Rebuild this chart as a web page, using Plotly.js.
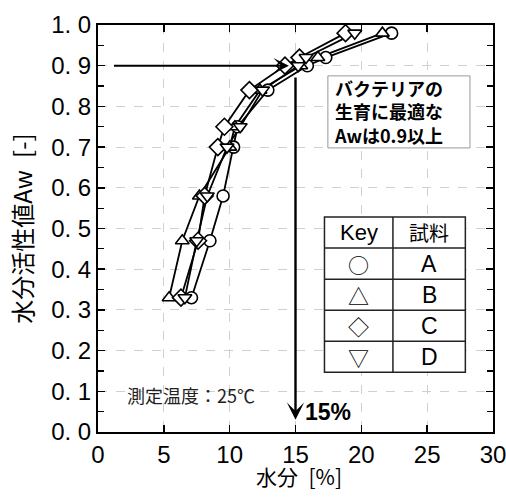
<!DOCTYPE html>
<html>
<head>
<meta charset="utf-8">
<script src="https://cdn.plot.ly/plotly-3.0.1.min.js"></script>
<style>html,body{margin:0;padding:0;background:#fff;}#chart{width:506px;height:497px;}</style>
</head>
<body>
<div id="chart"></div>
<script>
// ---- data ----
var awLevels = [0.33, 0.47, 0.58, 0.70, 0.75, 0.84, 0.90, 0.92, 0.98];
var moistureA = [7.1, 8.5, 9.5, 10.3, 10.6, 12.9, 15.9, 17.3, 22.3];
var moistureB = [5.4, 6.4, 7.7, 10.0, 10.4, 12.3, 15.4, 16.7, 21.6];
var moistureC = [6.3, 7.6, 8.1, 9.1, 9.6, 11.5, 14.2, 15.3, 18.8];
var moistureD = [6.6, 7.5, 8.3, 9.8, 10.8, 12.5, 15.2, 15.8, 19.5];
var seriesNames = ['A', 'B', 'C', 'D'];
var seriesSymbols = ['circle', 'triangle-up', 'diamond', 'triangle-down'];
var keyGlyphs = ['○', '△', '◇', '▽'];
var tableHeader = ['Key', '試料'];
var yTickVals = [0, 0.1, 0.2, 0.3, 0.4, 0.5, 0.6, 0.7, 0.8, 0.9, 1.0];
var yTickText = ['0. 0', '0. 1', '0. 2', '0. 3', '0. 4', '0. 5', '0. 6', '0. 7', '0. 8', '0. 9', '1. 0'];
var xTickVals = [0, 5, 10, 15, 20, 25, 30];
var boxText = 'バクテリアの<br>生育に最適な<br>Awは0.9以上';
var tempText = '測定温度：25℃';
var xTitle = '水分\u2002[%]';
var yTitle = '水分活性値Aw\u2002[-]';
var optimumMoisture = 15;
var optimumAw = 0.9;

var moistureSets = [moistureA, moistureB, moistureC, moistureD];
var latin = 'Liberation Sans, Arial, sans-serif';
var cjk = 'Noto Sans CJK JP, sans-serif';

var traces = [];
moistureSets.forEach(function (xs, i) {
  traces.push({x: xs, y: awLevels, type: 'scatter', mode: 'lines', name: seriesNames[i],
    line: {color: '#000', width: 1.8}, showlegend: false, hoverinfo: 'skip'});
});
moistureSets.forEach(function (xs, i) {
  traces.push({x: xs, y: awLevels, type: 'scatter', mode: 'markers', name: seriesNames[i],
    marker: {symbol: seriesSymbols[i], size: (i === 2 ? 13 : 12), color: '#fff',
      line: {color: '#000', width: 1.6}}, showlegend: false});
});

// table layout
var tX0 = 17.2, tX1 = 27.9, tDiv = 22.4, tTop = 0.528, rowH = 0.0762;
var nRows = keyGlyphs.length + 1;
var shapes = [];
shapes.push({type: 'rect', xref: 'x', yref: 'y', x0: tX0, x1: tX1, y0: tTop - nRows * rowH, y1: tTop,
  line: {color: '#222', width: 1.5}, fillcolor: '#fff', layer: 'above'});
for (var r = 1; r < nRows; r++) {
  shapes.push({type: 'line', xref: 'x', yref: 'y', x0: tX0, x1: tX1, y0: tTop - r * rowH, y1: tTop - r * rowH,
    line: {color: '#222', width: 1.5}});
}
shapes.push({type: 'line', xref: 'x', yref: 'y', x0: tDiv, x1: tDiv, y0: tTop - nRows * rowH, y1: tTop,
  line: {color: '#222', width: 1.5}});

// text box frame
shapes.push({type: 'rect', xref: 'x', yref: 'y', x0: 17.46, x1: 28.25, y0: 0.698, y1: 0.875,
  line: {color: '#999', width: 1}, fillcolor: '#fff', layer: 'above'});

var annotations = [];
var cx1 = (tX0 + tDiv) / 2, cx2 = (tDiv + tX1) / 2;
annotations.push({x: cx1, y: tTop - rowH / 2, xref: 'x', yref: 'y', text: tableHeader[0], showarrow: false,
  font: {family: latin, size: 22, color: '#000'}});
annotations.push({x: cx2, y: tTop - rowH / 2, xref: 'x', yref: 'y', text: tableHeader[1], showarrow: false,
  font: {family: cjk, size: 20, color: '#000'}});
keyGlyphs.forEach(function (g, i) {
  var yc = tTop - (i + 1.5) * rowH;
  annotations.push({x: cx1, y: yc, xref: 'x', yref: 'y', text: g, showarrow: false,
    font: {family: cjk, size: 21, color: '#000'}});
  annotations.push({x: cx2, y: yc, xref: 'x', yref: 'y', text: seriesNames[i], showarrow: false,
    font: {family: latin, size: 23, color: '#000'}});
});

// box text
annotations.push({x: 17.8, y: 0.787, xref: 'x', yref: 'y', xanchor: 'left', align: 'left',
  text: '<b>' + boxText + '</b>', showarrow: false, font: {family: cjk, size: 18, color: '#000'}});

// arrows
annotations.push({x: 14.5, y: optimumAw, ax: 1.1, ay: optimumAw, xref: 'x', yref: 'y', axref: 'x', ayref: 'y',
  text: '', showarrow: true, arrowhead: 3, arrowsize: 1.3, arrowwidth: 2, arrowcolor: '#000'});
annotations.push({x: optimumMoisture, y: 0.03, ax: optimumMoisture, ay: 0.875, xref: 'x', yref: 'y', axref: 'x', ayref: 'y',
  text: '', showarrow: true, arrowhead: 3, arrowsize: 1.2, arrowwidth: 2.4, arrowcolor: '#000'});
annotations.push({x: 17.5, y: 0.05, xref: 'x', yref: 'y', text: '<b>' + optimumMoisture + '%</b>', showarrow: false,
  font: {family: latin, size: 23, color: '#000'}});

annotations.push({x: 7.06, y: 0.091, xref: 'x', yref: 'y', text: tempText, showarrow: false,
  font: {family: cjk, size: 18, color: '#222'}});

// x-axis title placed as paper annotation
annotations.push({x: 0.51, y: -0.107, xref: 'paper', yref: 'paper', text: xTitle, showarrow: false,
  yanchor: 'middle', font: {family: cjk, size: 21, color: '#000'}});

var layout = {
  width: 506, height: 497,
  margin: {l: 98, r: 13, t: 25, b: 65},
  paper_bgcolor: '#fff', plot_bgcolor: '#fff',
  showlegend: false,
  xaxis: {
    range: [0, 30], tickvals: xTickVals, ticks: 'inside', ticklen: 7, tickwidth: 1.5, tickcolor: '#000',
    showline: true, linecolor: '#000', linewidth: 2, mirror: 'ticks', ticklabeloverflow: 'allow',
    showgrid: true, gridcolor: '#d0d0d0', griddash: 'dash', gridwidth: 1, zeroline: false,
    tickfont: {family: latin, size: 24, color: '#000'}
  },
  yaxis: {
    range: [0, 1], tickvals: yTickVals, ticktext: yTickText, ticks: 'inside', ticklen: 7, tickwidth: 1.5, tickcolor: '#000',
    minor: {dtick: 0.05, ticks: 'inside', ticklen: 6, tickwidth: 1.2, tickcolor: '#000', showgrid: false},
    showline: true, linecolor: '#000', linewidth: 2, mirror: 'ticks', ticklabeloverflow: 'allow',
    showgrid: true, gridcolor: '#d0d0d0', griddash: 'dash', gridwidth: 1, zeroline: false,
    tickfont: {family: latin, size: 24, color: '#000'},
    title: {text: yTitle, font: {family: cjk, size: 24, color: '#000'}, standoff: 12}
  },
  shapes: shapes,
  annotations: annotations
};

Plotly.newPlot('chart', traces, layout, {displayModeBar: false, staticPlot: true});
</script>
</body>
</html>
